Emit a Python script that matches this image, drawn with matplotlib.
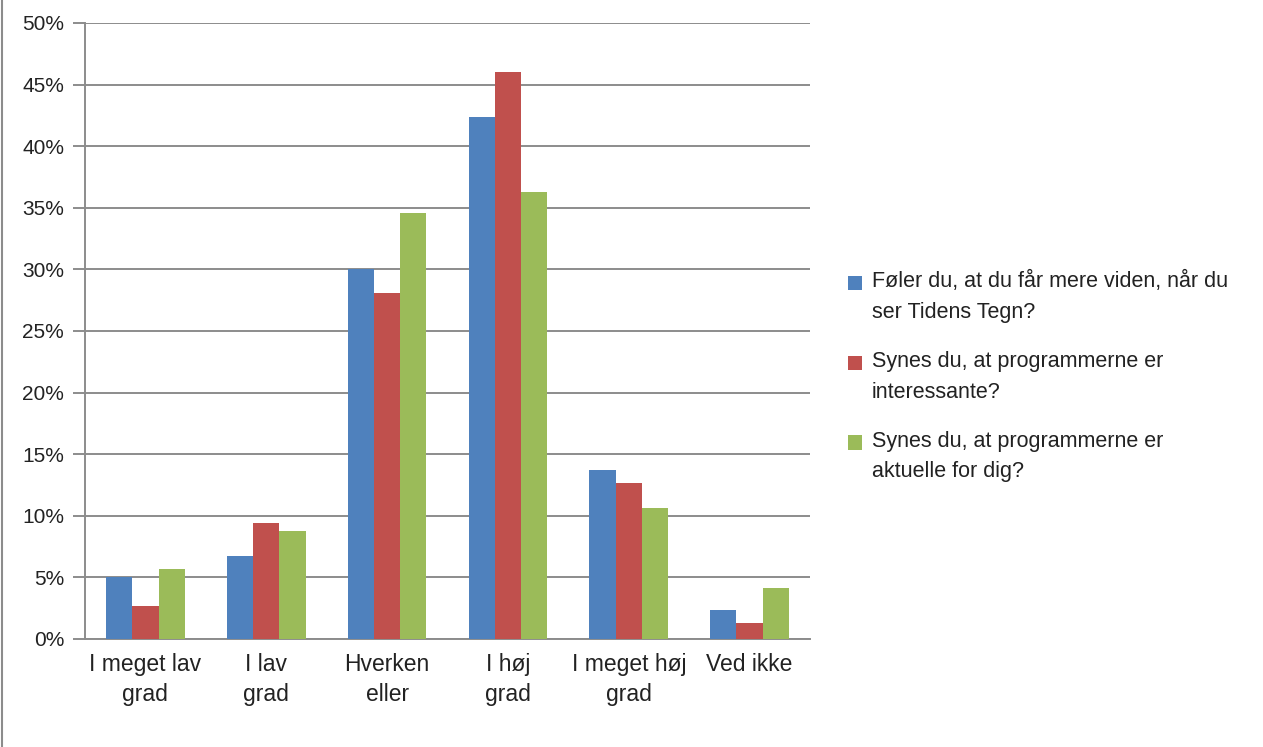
import matplotlib
matplotlib.use("Agg")
import matplotlib.pyplot as plt
import matplotlib.patches as mpatches
from matplotlib.legend_handler import HandlerPatch
from matplotlib.container import BarContainer
import numpy as np
from matplotlib.ticker import FuncFormatter

categories = ["I meget lav\ngrad", "I lav\ngrad", "Hverken\neller", "I høj\ngrad", "I meget høj\ngrad", "Ved ikke"]
series_names = [
    "Føler du, at du får mere viden, når du\nser Tidens Tegn?",
    "Synes du, at programmerne er\ninteressante?",
    "Synes du, at programmerne er\naktuelle for dig?",
]
viden = [5.0, 6.7, 30.0, 42.4, 13.7, 2.35]
interessante = [2.7, 9.4, 28.1, 46.0, 12.7, 1.3]
aktuelle = [5.65, 8.8, 34.6, 36.3, 10.6, 4.1]
colors = ["#4F81BD", "#C0504D", "#9BBB59"]
yticks = [0, 5, 10, 15, 20, 25, 30, 35, 40, 45, 50]

plt.rcParams["font.family"] = ["Liberation Sans", "DejaVu Sans"]

W, H = 1263, 747
fig = plt.figure(figsize=(W / 100, H / 100), dpi=100)
ax = fig.add_axes([85 / W, (H - 639) / H, 725 / W, 616 / H])

x = np.arange(len(categories))
bw = 0.217
data = [viden, interessante, aktuelle]
for i, (vals, c, name) in enumerate(zip(data, colors, series_names)):
    ax.bar(x + (i - 1) * bw, vals, width=bw, color=c, label=name, zorder=3)

ax.set_xlim(-0.5, len(categories) - 0.5)
ax.set_ylim(0, 50)
ax.set_yticks(yticks)
ax.yaxis.set_major_formatter(FuncFormatter(lambda v, p: f"{int(v)}%"))
ax.grid(axis="y", color="#8C8C8C", linewidth=1.4, zorder=0)
ax.set_axisbelow(True)
for s in ["top", "right"]:
    ax.spines[s].set_visible(False)
ax.spines["left"].set_color("#8C8C8C")
ax.spines["left"].set_linewidth(1.4)
ax.spines["bottom"].set_color("#8C8C8C")
ax.spines["bottom"].set_linewidth(1.4)
ax.tick_params(axis="y", length=9, width=1.4, color="#8C8C8C", labelsize=15, pad=6, labelcolor="#222222")
ax.tick_params(axis="x", length=0, labelsize=16.5, pad=10, labelcolor="#222222")
ax.set_xticks(x)
ax.set_xticklabels(categories, linespacing=1.4)


def top_square(legend, orig_handle, xdescent, ydescent, width, height, fontsize):
    return mpatches.Rectangle((-xdescent, -ydescent + 10.5), width, height)


def from_first_bar(handle, orig):
    handle.update_from(orig.patches[0])


leg = fig.legend(loc="upper left", bbox_to_anchor=(829 / W, 1 - 252 / H), frameon=False,
                 fontsize=15.5, handlelength=0.65, handleheight=0.65, handletextpad=0.45,
                 labelspacing=1.3,
                 handler_map={BarContainer: HandlerPatch(patch_func=top_square,
                                                         update_func=from_first_bar)})
for t in leg.get_texts():
    t.set_linespacing(1.6)
    t.set_color("#222222")

fig.add_artist(plt.Line2D([2 / W, 2 / W], [0, 1], color="#8C8C8C", linewidth=1.5))

fig.savefig("out.png", dpi=100)
